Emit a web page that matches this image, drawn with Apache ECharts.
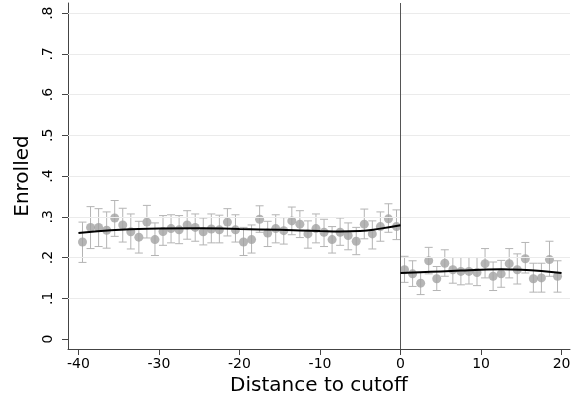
<!DOCTYPE html>
<html><head><meta charset="utf-8">
<script src="https://cdn.jsdelivr.net/npm/echarts@6/dist/echarts.min.js"></script>
<style>html,body{margin:0;padding:0;background:#fff}#c{width:578px;height:405px}</style>
</head><body><div id="c"></div>
<script>
// Bin midpoints
const leftX = [-39.5,-38.5,-37.5,-36.5,-35.5,-34.5,-33.5,-32.5,-31.5,-30.5,-29.5,-28.5,-27.5,-26.5,-25.5,-24.5,-23.5,-22.5,-21.5,-20.5,-19.5,-18.5,-17.5,-16.5,-15.5,-14.5,-13.5,-12.5,-11.5,-10.5,-9.5,-8.5,-7.5,-6.5,-5.5,-4.5,-3.5,-2.5,-1.5,-0.5];
const leftMean = [0.238,0.274,0.274,0.267,0.297,0.280,0.263,0.250,0.287,0.244,0.264,0.271,0.268,0.280,0.274,0.263,0.270,0.268,0.287,0.268,0.238,0.244,0.294,0.260,0.271,0.266,0.290,0.282,0.258,0.271,0.262,0.244,0.262,0.254,0.240,0.282,0.258,0.276,0.295,0.276];
const leftHi = [0.287,0.325,0.320,0.312,0.340,0.321,0.307,0.289,0.328,0.285,0.303,0.305,0.303,0.315,0.307,0.297,0.307,0.304,0.320,0.305,0.274,0.280,0.327,0.289,0.305,0.298,0.324,0.315,0.290,0.307,0.294,0.276,0.297,0.285,0.274,0.319,0.290,0.312,0.332,0.317];
const leftLo = [0.188,0.222,0.227,0.223,0.252,0.238,0.221,0.211,0.248,0.205,0.230,0.236,0.234,0.245,0.240,0.231,0.236,0.236,0.253,0.238,0.205,0.211,0.262,0.227,0.236,0.233,0.256,0.249,0.223,0.236,0.227,0.211,0.230,0.219,0.207,0.246,0.221,0.240,0.262,0.244];

const rightX = [0.5,1.5,2.5,3.5,4.5,5.5,6.5,7.5,8.5,9.5,10.5,11.5,12.5,13.5,14.5,15.5,16.5,17.5,18.5,19.5];
const rightMean = [0.170,0.160,0.137,0.192,0.148,0.186,0.170,0.166,0.166,0.163,0.185,0.154,0.160,0.185,0.170,0.197,0.148,0.150,0.195,0.154];
const rightHi = [0.203,0.192,0.164,0.225,0.178,0.219,0.200,0.200,0.200,0.200,0.222,0.189,0.193,0.222,0.209,0.237,0.186,0.186,0.240,0.192];
const rightLo = [0.139,0.129,0.109,0.160,0.119,0.154,0.137,0.133,0.135,0.131,0.150,0.119,0.127,0.150,0.135,0.162,0.115,0.115,0.154,0.115];

// Fitted lines
const fitLeftX = [-40,-36,-30,-25,-20,-15,-10,-7.5,-5,-2.5,0];
const fitLeftY = [0.260,0.267,0.271,0.272,0.270,0.268,0.265,0.264,0.265,0.271,0.279];
const fitRightX = [0,2.5,5,7.5,10,12.5,15,17.5,20];
const fitRightY = [0.162,0.164,0.166,0.168,0.170,0.171,0.170,0.167,0.162];

// Axis ticks
const xTicks = [-40,-30,-20,-10,0,10,20];
const yTicks = [0,0.1,0.2,0.3,0.4,0.5,0.6,0.7,0.8];
const yTickLabels = ['0','.1','.2','.3','.4','.5','.6','.7','.8'];

const FONT = 'DejaVu Sans';
const zip = (a,b)=>a.map((v,i)=>[v,b[i]]);
const errData = leftX.map((x,i)=>[x,leftLo[i],leftHi[i]]).concat(rightX.map((x,i)=>[x,rightLo[i],rightHi[i]]));

function renderErr(params, api){
  const x = api.value(0), lo = api.value(1), hi = api.value(2);
  const a = api.coord([x,hi]), b = api.coord([x,lo]);
  const w = 4;
  const st = {stroke:'#b4b4b4', lineWidth:1, fill:null};
  return {type:'group', children:[
    {type:'line', shape:{x1:a[0],y1:a[1],x2:b[0],y2:b[1]}, style:st},
    {type:'line', shape:{x1:a[0]-w,y1:a[1],x2:a[0]+w,y2:a[1]}, style:st},
    {type:'line', shape:{x1:b[0]-w,y1:b[1],x2:b[0]+w,y2:b[1]}, style:st}
  ]};
}

const chart = echarts.init(document.getElementById('c'), null, {renderer:'canvas'});
chart.setOption({
  animation:false,
  backgroundColor:'#fff',
  grid:{left:68, right:8, top:3, bottom:56, containLabel:false},
  xAxis:{
    type:'value', min:-41.3, max:21.05,
    name:'Distance to cutoff', nameLocation:'middle', nameGap:24,
    nameTextStyle:{fontFamily:FONT, fontSize:20, color:'#000'},
    axisLine:{show:true, onZero:false, lineStyle:{color:'#444', width:1}},
    axisTick:{show:true, length:6, lineStyle:{color:'#444'}, customValues:xTicks},
    axisLabel:{fontFamily:FONT, fontSize:14, color:'#000', margin:8, customValues:xTicks, formatter:v=>String(v)},
    splitLine:{show:false}
  },
  yAxis:{
    type:'value', min:-0.0246, max:0.825,
    name:'Enrolled', nameLocation:'middle', nameGap:34, nameRotate:90,
    nameTextStyle:{fontFamily:FONT, fontSize:20, color:'#000'},
    axisLine:{show:true, onZero:false, lineStyle:{color:'#444', width:1}},
    axisTick:{show:true, length:6, lineStyle:{color:'#444'}, customValues:yTicks},
    axisLabel:{fontFamily:FONT, fontSize:14, color:'#000', margin:13, rotate:90, customValues:yTicks,
      formatter:v=>{const i=yTicks.findIndex(t=>Math.abs(t-v)<1e-6); return i>=0?yTickLabels[i]:'';}},
    splitLine:{show:false}
  },
  series:[
    {type:'line', data:[], silent:true,
     markLine:{silent:true, symbol:'none', label:{show:false},
       lineStyle:{color:'#ebebeb', width:1, type:'solid'},
       data:yTicks.slice(1).map(v=>({yAxis:v}))}},
    {type:'line', data:[], silent:true,
     markLine:{silent:true, symbol:'none', label:{show:false},
       lineStyle:{color:'#555', width:1, type:'solid'},
       data:[{xAxis:0}]}},
    {type:'custom', renderItem:renderErr, data:errData, encode:{x:0,y:[1,2]}, silent:true, z:3},
    {type:'scatter', data:zip(leftX,leftMean), symbol:'circle', symbolSize:9, itemStyle:{color:'#a3a3a3'}, z:4},
    {type:'scatter', data:zip(rightX,rightMean), symbol:'circle', symbolSize:9, itemStyle:{color:'#a3a3a3'}, z:4},
    {type:'line', data:zip(fitLeftX,fitLeftY), smooth:true, showSymbol:false, lineStyle:{color:'#000', width:2}, z:5},
    {type:'line', data:zip(fitRightX,fitRightY), smooth:true, showSymbol:false, lineStyle:{color:'#000', width:2}, z:5}
  ]
});
</script></body></html>
